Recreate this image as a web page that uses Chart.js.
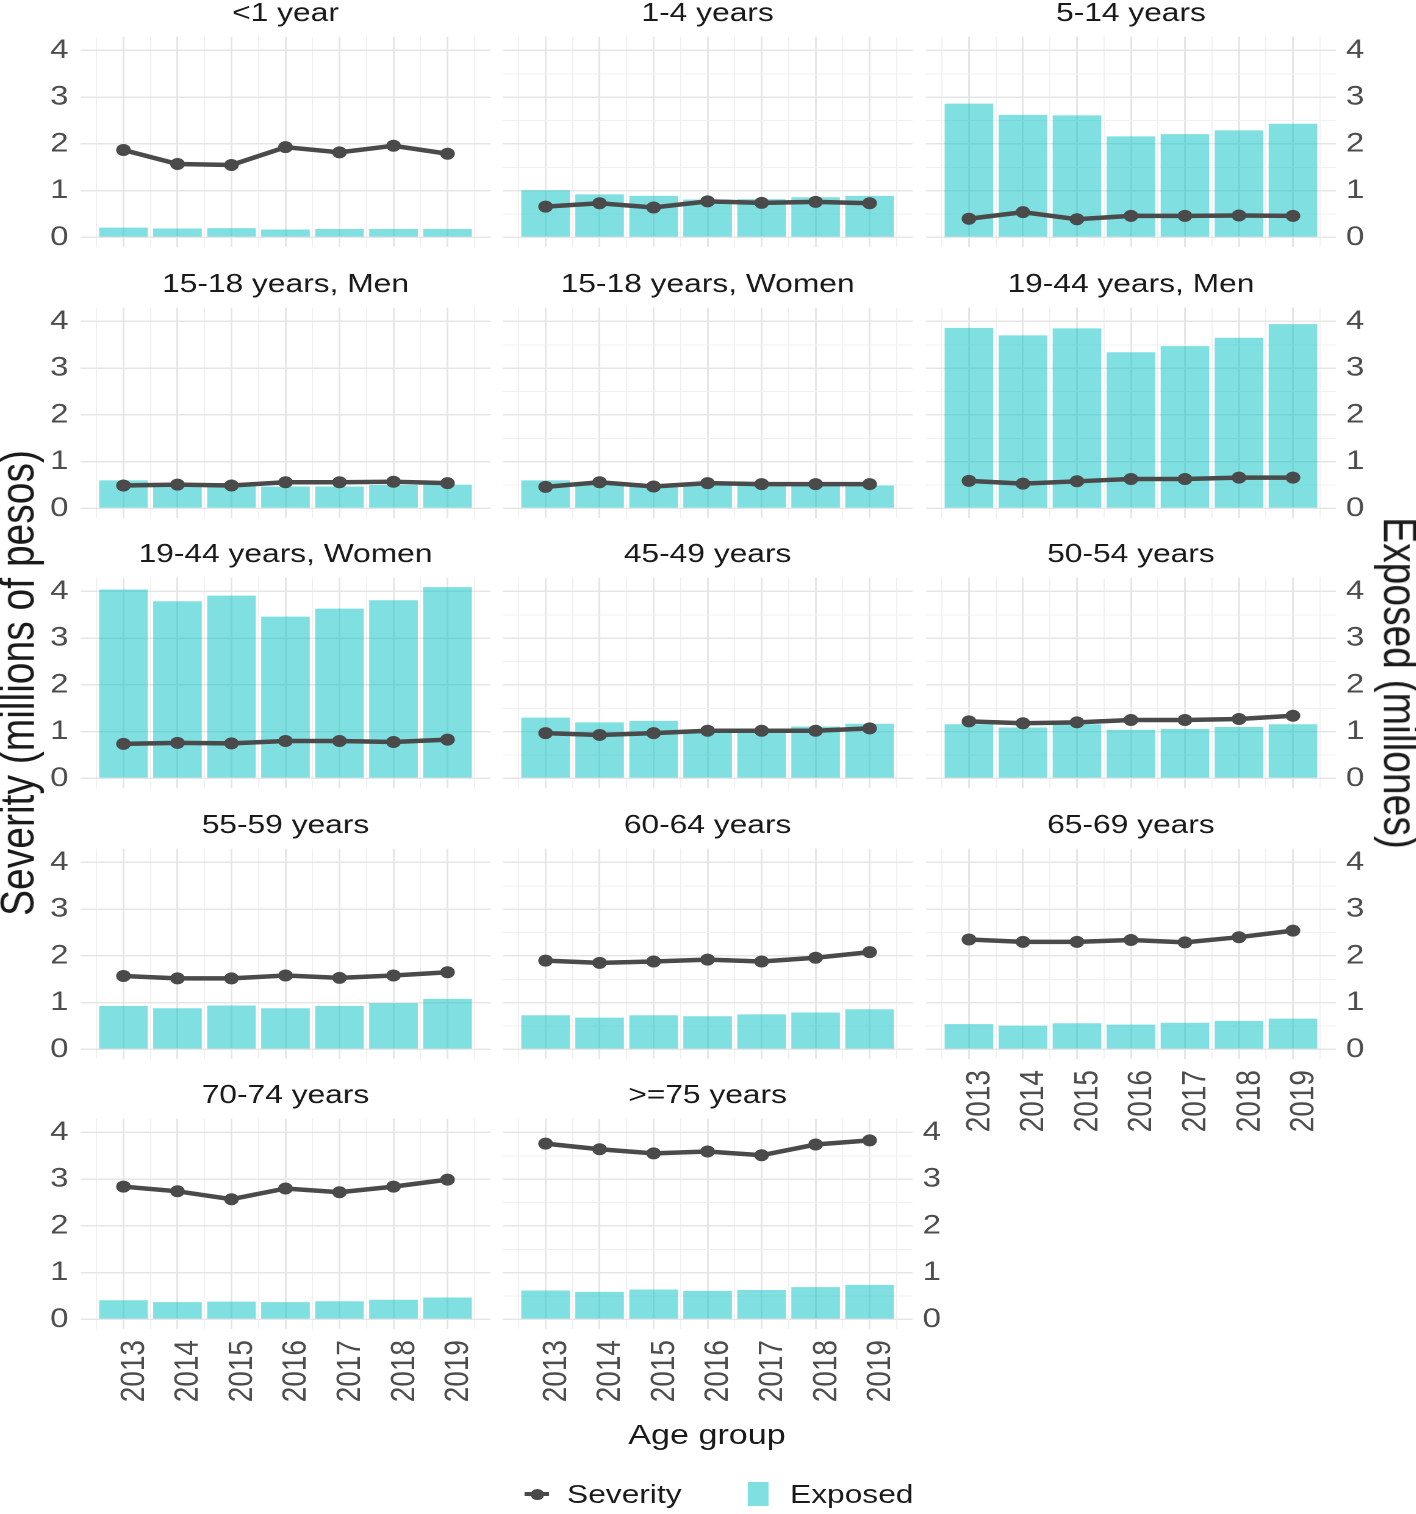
<!DOCTYPE html>
<html>
<head>
<meta charset="utf-8">
<script src="https://cdn.jsdelivr.net/npm/chart.js@4.4.1/dist/chart.umd.min.js"></script>
<style>
html,body{margin:0;padding:0;background:#fff;}
body{width:1416px;height:1514px;overflow:hidden;position:relative;font-family:"Liberation Sans",Arial,sans-serif;}
#stage{position:absolute;left:0;top:0;width:1161px;height:1514px;transform:scaleX(1.22);transform-origin:0 0;}
#stage canvas{position:absolute;}
.txt{position:absolute;white-space:nowrap;line-height:1;color:#1a1a1a;}
</style>
</head>
<body>
<div id="stage"></div>
<script>
// ---------- data ----------
const years = [2013, 2014, 2015, 2016, 2017, 2018, 2019];
const yearMinor = [2012.5, 2013.5, 2014.5, 2015.5, 2016.5, 2017.5, 2018.5, 2019.5];
const yTicks = [0, 1, 2, 3, 4];
const yMinor = [0.5, 1.5, 2.5, 3.5];

const groups = ['<1 year', '1-4 years', '5-14 years', '15-18 years, Men', '15-18 years, Women',
  '19-44 years, Men', '19-44 years, Women', '45-49 years', '50-54 years', '55-59 years',
  '60-64 years', '65-69 years', '70-74 years', '>=75 years'];

const sevLt1   = [1.87, 1.57, 1.55, 1.93, 1.82, 1.96, 1.79];
const expLt1   = [0.21, 0.19, 0.20, 0.17, 0.18, 0.18, 0.18];
const sev1_4   = [0.66, 0.73, 0.64, 0.77, 0.74, 0.76, 0.73];
const exp1_4   = [1.01, 0.92, 0.89, 0.81, 0.82, 0.86, 0.89];
const sev5_14  = [0.40, 0.54, 0.39, 0.46, 0.46, 0.47, 0.46];
const exp5_14  = [2.86, 2.62, 2.61, 2.16, 2.21, 2.29, 2.43];
const sev15_18M = [0.49, 0.51, 0.49, 0.56, 0.56, 0.57, 0.54];
const exp15_18M = [0.60, 0.50, 0.50, 0.47, 0.47, 0.50, 0.51];
const sev15_18W = [0.46, 0.56, 0.47, 0.54, 0.52, 0.52, 0.52];
const exp15_18W = [0.60, 0.55, 0.50, 0.50, 0.50, 0.50, 0.49];
const sev19_44M = [0.59, 0.53, 0.58, 0.63, 0.63, 0.66, 0.66];
const exp19_44M = [3.86, 3.70, 3.85, 3.34, 3.47, 3.65, 3.94];
const sev19_44W = [0.74, 0.76, 0.75, 0.80, 0.80, 0.78, 0.83];
const exp19_44W = [4.04, 3.79, 3.91, 3.46, 3.63, 3.81, 4.09];
const sev45_49 = [0.97, 0.93, 0.97, 1.02, 1.02, 1.02, 1.07];
const exp45_49 = [1.30, 1.20, 1.23, 1.04, 1.05, 1.11, 1.17];
const sev50_54 = [1.22, 1.18, 1.20, 1.25, 1.25, 1.27, 1.34];
const exp50_54 = [1.16, 1.09, 1.16, 1.04, 1.06, 1.10, 1.16];
const sev55_59 = [1.57, 1.52, 1.52, 1.58, 1.53, 1.58, 1.65];
const exp55_59 = [0.93, 0.88, 0.94, 0.88, 0.93, 0.99, 1.08];
const sev60_64 = [1.90, 1.85, 1.88, 1.92, 1.88, 1.96, 2.08];
const exp60_64 = [0.73, 0.68, 0.73, 0.71, 0.75, 0.79, 0.86];
const sev65_69 = [2.35, 2.30, 2.30, 2.34, 2.29, 2.40, 2.54];
const exp65_69 = [0.54, 0.51, 0.56, 0.53, 0.57, 0.61, 0.66];
const sev70_74 = [2.84, 2.74, 2.57, 2.80, 2.72, 2.84, 2.99];
const exp70_74 = [0.41, 0.37, 0.38, 0.37, 0.39, 0.42, 0.47];
const sev75p   = [3.76, 3.64, 3.55, 3.59, 3.51, 3.74, 3.83];
const exp75p   = [0.62, 0.59, 0.64, 0.61, 0.63, 0.69, 0.74];

const severityByGroup = [sevLt1, sev1_4, sev5_14, sev15_18M, sev15_18W, sev19_44M, sev19_44W,
  sev45_49, sev50_54, sev55_59, sev60_64, sev65_69, sev70_74, sev75p];
const exposedByGroup = [expLt1, exp1_4, exp5_14, exp15_18M, exp15_18W, exp19_44M, exp19_44W,
  exp45_49, exp50_54, exp55_59, exp60_64, exp65_69, exp70_74, exp75p];

// ---------- layout ----------
const S = 1.22;                 // horizontal stretch of the figure
const COLX = [81, 503.2, 925.4];// screen x of panel left edges
const PW = 410.3, PH = 209.9;   // panel size (screen)
const ROW0 = 37, ROWP = 270.5;  // first panel top, row pitch
const AXW = 62;                 // local width reserved for y tick labels (each side)
const TOPM = 38.6;              // title block height
const BOTM = 110;               // x tick label block height
const FONT = '"Liberation Sans", Arial, sans-serif';
const GRID_MAJOR = '#e6e6e6', GRID_MINOR = '#f0f0f0';
const LINE_COL = '#4a4a4a', BAR_COL = 'rgba(0,191,196,0.5)';

Chart.defaults.font.family = FONT;
const stage = document.getElementById('stage');

function isMajor(v) { return Math.abs(v - Math.round(v)) < 1e-6; }

function makePanel(i) {
  const col = i % 3, row = Math.floor(i / 3);
  const hasLeft = col === 0;
  const hasRight = col === 2 || i === 13;
  const hasBottom = row === 4 || i === 11;
  const pl = COLX[col] / S;
  const pw = PW / S;
  const pt = ROW0 + row * ROWP;
  const cl = pl - AXW;
  const cw = Math.round(pw + 2 * AXW);
  const ct = pt - TOPM;
  const ch = Math.round(TOPM + PH + (hasBottom ? BOTM : 0));

  const canvas = document.createElement('canvas');
  canvas.width = cw; canvas.height = ch;
  canvas.style.left = cl + 'px'; canvas.style.top = ct + 'px';
  canvas.style.width = cw + 'px'; canvas.style.height = ch + 'px';
  stage.appendChild(canvas);

  const sev = severityByGroup[i], exp = exposedByGroup[i];
  const yRange = { min: -0.2045, max: 4.2945 };
  const yTickBuild = s => { s.ticks = yTicks.concat(yMinor).sort((a, b) => a - b).map(v => ({ value: v })); };
  const yLabel = v => (yTicks.includes(v) ? String(v) : '');

  new Chart(canvas, {
    type: 'bar',
    data: {
      datasets: [
        {
          type: 'line', label: 'Severity', yAxisID: 'y',
          data: years.map((x, k) => ({ x: x, y: sev[k] })),
          borderColor: LINE_COL, backgroundColor: LINE_COL,
          borderWidth: 4.5, pointRadius: 6, pointBorderWidth: 0,
          pointBackgroundColor: LINE_COL, tension: 0, order: 1
        },
        {
          type: 'bar', label: 'Exposed', yAxisID: 'y',
          data: years.map((x, k) => ({ x: x, y: exp[k] })),
          backgroundColor: BAR_COL, borderWidth: 0,
          // tick spacing is half a year (minor grid), so 2 x 0.9 of it = 0.9 year
          barPercentage: 0.9, categoryPercentage: 2.0, order: 2
        }
      ]
    },
    options: {
      responsive: false, animation: false, devicePixelRatio: 2,
      layout: { padding: 0, autoPadding: false },
      plugins: {
        legend: { display: false },
        tooltip: { enabled: false },
        title: {
          display: true, text: groups[i], color: '#1a1a1a',
          font: { size: 26, weight: 'normal', lineHeight: 1.2 },
          padding: { top: 0, bottom: 7.4 }
        }
      },
      scales: {
        x: {
          type: 'linear', position: 'bottom', min: 2012.205, max: 2019.795, offset: false,
          afterBuildTicks: s => { s.ticks = years.concat(yearMinor).sort((a, b) => a - b).map(v => ({ value: v })); },
          afterFit: s => { s.height = hasBottom ? BOTM : 0; s.paddingLeft = 0; s.paddingRight = 0; },
          ticks: {
            display: hasBottom, autoSkip: false, minRotation: 90, maxRotation: 90, padding: 11,
            labelOffset: 11 / S,
            color: '#4d4d4d', font: { size: 28 },
            callback: v => (years.includes(v) ? String(v) : '')
          },
          grid: {
            offset: false, drawTicks: false,
            color: c => (isMajor(c.tick.value) ? GRID_MAJOR : GRID_MINOR),
            lineWidth: c => (isMajor(c.tick.value) ? 1.5 : 1)
          },
          border: { display: false }
        },
        y: {
          type: 'linear', position: 'left', min: yRange.min, max: yRange.max,
          afterBuildTicks: yTickBuild,
          afterFit: s => { s.width = AXW; s.paddingTop = 0; s.paddingBottom = 0; },
          ticks: { display: hasLeft, padding: 12 / S, color: '#4d4d4d', font: { size: 27 }, callback: yLabel },
          grid: {
            drawTicks: false,
            color: c => (isMajor(c.tick.value) ? GRID_MAJOR : GRID_MINOR),
            lineWidth: c => (isMajor(c.tick.value) ? 1.5 : 1)
          },
          border: { display: false }
        },
        y2: {
          type: 'linear', position: 'right', min: yRange.min, max: yRange.max,
          afterBuildTicks: yTickBuild,
          afterFit: s => { s.width = AXW; s.paddingTop = 0; s.paddingBottom = 0; },
          ticks: { display: hasRight, padding: 10 / S, color: '#4d4d4d', font: { size: 27 }, callback: yLabel },
          grid: { display: false, drawTicks: false },
          border: { display: false }
        }
      }
    }
  });
}

groups.forEach((g, i) => makePanel(i));

// ---------- shared texts (axis titles, legend) ----------
function addText(txt, x, y, size, rot) {
  const d = document.createElement('div');
  d.className = 'txt';
  d.textContent = txt;
  d.style.left = (x / S) + 'px';
  d.style.top = y + 'px';
  d.style.fontSize = size + 'px';
  d.style.transform = 'translate(-50%,-50%)' + (rot ? ' rotate(' + rot + 'deg)' : '');
  stage.appendChild(d);
  return d;
}
addText('Severity (millions of pesos)', 17, 682.5, 39, -90);
addText('Exposed (millones)', 1400, 682.5, 39, 90);
addText('Age group', 707, 1435, 28, 0);

// legend
function addLeft(txt, x, y, size) {
  const d = document.createElement('div');
  d.className = 'txt';
  d.textContent = txt;
  d.style.left = (x / S) + 'px';
  d.style.top = y + 'px';
  d.style.fontSize = size + 'px';
  d.style.transform = 'translateY(-50%)';
  stage.appendChild(d);
}
const keyLine = document.createElement('div');
keyLine.style.cssText = 'position:absolute;left:' + (525 / S) + 'px;top:' + (1494 - 2) + 'px;width:' + (24 / S) + 'px;height:4px;background:' + LINE_COL + ';';
stage.appendChild(keyLine);
const keyDot = document.createElement('div');
keyDot.style.cssText = 'position:absolute;left:' + (537 / S - 5.5) + 'px;top:' + (1494 - 5.5) + 'px;width:11px;height:11px;border-radius:50%;background:' + LINE_COL + ';';
stage.appendChild(keyDot);
addLeft('Severity', 567, 1494, 26);
const keySq = document.createElement('div');
keySq.style.cssText = 'position:absolute;left:' + (748 / S) + 'px;top:1482px;width:' + (21 / S) + 'px;height:24px;background:' + BAR_COL + ';';
stage.appendChild(keySq);
addLeft('Exposed', 790, 1494, 26);
</script>
</body>
</html>
